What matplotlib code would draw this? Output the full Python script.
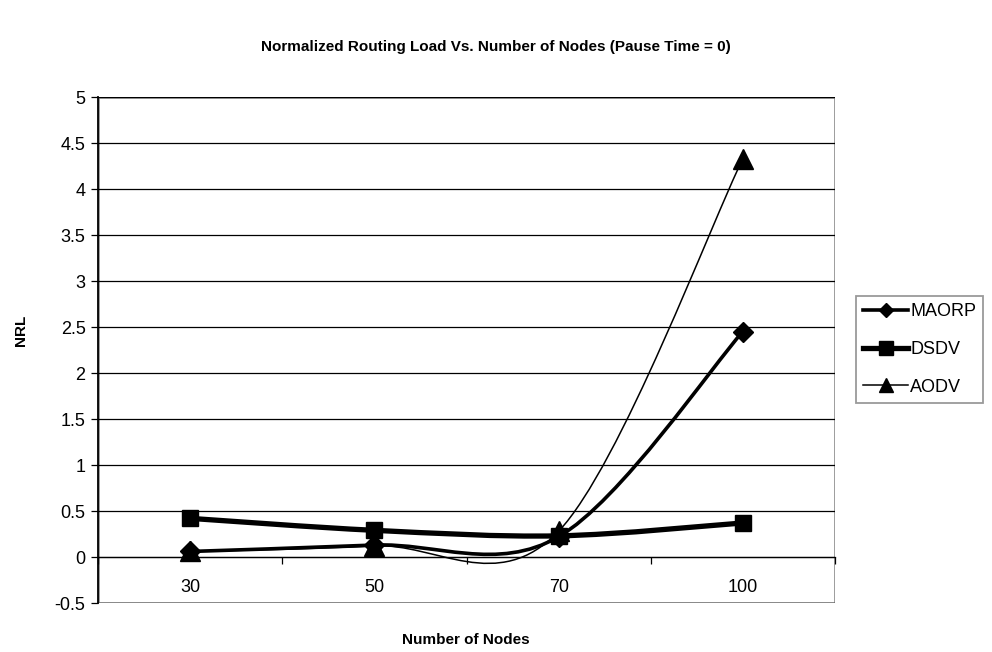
import matplotlib
matplotlib.use("Agg")
import matplotlib.pyplot as plt
from matplotlib.path import Path
from matplotlib.patches import PathPatch, Rectangle
from matplotlib.lines import Line2D
import numpy as np

plt.rcParams['font.family'] = ['Liberation Sans', 'DejaVu Sans']

categories = ["30", "50", "70", "100"]
maorp = [0.06, 0.13, 0.22, 2.45]
dsdv = [0.42, 0.29, 0.23, 0.37]
aodv = [0.06, 0.12, 0.28, 4.33]
yticks = [-0.5, 0, 0.5, 1, 1.5, 2, 2.5, 3, 3.5, 4, 4.5, 5]
ytick_labels = ["-0.5", "0", "0.5", "1", "1.5", "2", "2.5", "3", "3.5", "4", "4.5", "5"]

W, H = 992, 652
fig = plt.figure(figsize=(W / 100, H / 100), dpi=100)
L, R, T, B = 98, 835, 97, 603
ax = fig.add_axes([L / W, 1 - B / H, (R - L) / W, (B - T) / H])

x = np.arange(len(categories))


def smooth_path(xs, ys):
    pts = np.column_stack([xs, ys]).astype(float)
    n = len(pts)
    verts = [pts[0]]
    codes = [Path.MOVETO]
    for i in range(n - 1):
        p0 = pts[i - 1] if i > 0 else pts[i]
        p1 = pts[i]
        p2 = pts[i + 1]
        p3 = pts[i + 2] if i + 2 < n else pts[i + 1]
        c1 = p1 + (p2 - p0) / 6.0
        c2 = p2 - (p3 - p1) / 6.0
        verts += [c1, c2, p2]
        codes += [Path.CURVE4] * 3
    return Path(verts, codes)


styles = [
    ("MAORP", maorp, 2.6, 'D', 10, 7.5),
    ("DSDV", dsdv, 3.8, 's', 11.5, 10.5),
    ("AODV", aodv, 1.1, '^', 14, 10.5),
]
handles = []
for k, (name, ys, lw, mk, ms, lms) in enumerate(styles):
    patch = PathPatch(smooth_path(x, ys), facecolor='none', edgecolor='black',
                      linewidth=lw, zorder=3 + k, capstyle='round', joinstyle='round')
    ax.add_patch(patch)
    ax.plot(x, ys, linestyle='none', marker=mk, markersize=ms, color='black',
            zorder=3.5 + k)
    handles.append(Line2D([], [], color='black', linewidth=lw, marker=mk,
                          markersize=lms, label=name))

ax.set_xlim(-0.5, 3.5)
ax.set_ylim(-0.5, 5)

ax.set_yticks(yticks)
ax.set_yticklabels(ytick_labels, fontsize=13)
ax.yaxis.grid(True, color='black', linewidth=0.9)
ax.set_axisbelow(True)

ax.spines['top'].set_visible(False)
ax.spines['right'].set_visible(False)
ax.spines['bottom'].set_position(('data', 0))
ax.spines['bottom'].set_linewidth(0.9)
ax.spines['left'].set_linewidth(1.3)
ax.add_patch(Rectangle((0, 0), 1, 1, transform=ax.transAxes, fill=False,
                       edgecolor='#808080', linewidth=1.8, zorder=0.5))

ax.set_xticks(x)
ax.set_xticklabels(categories, fontsize=13)
ax.set_xticks(np.arange(-0.5, 3.6, 1.0), minor=True)
ax.tick_params(axis='x', which='major', length=0, pad=16)
ax.tick_params(axis='x', which='minor', length=5, width=0.9, direction='out')
ax.tick_params(axis='y', length=5, width=0.9, direction='out', pad=4)

fig.text(496 / W, 1 - 47 / H, "Normalized Routing Load Vs. Number of Nodes (Pause Time = 0)",
         ha='center', va='center', fontsize=11, fontweight='bold')
fig.text(466 / W, 1 - 640 / H, "Number of Nodes", ha='center', va='center',
         fontsize=11, fontweight='bold')
fig.text(21 / W, 1 - 330 / H, "NRL", ha='center', va='center', rotation=90,
         fontsize=11, fontweight='bold')

leg = fig.legend(handles=handles, loc='upper left',
                 bbox_to_anchor=(856 / W, 1 - 296 / H), fontsize=13,
                 frameon=True, fancybox=False, handlelength=2.5,
                 handletextpad=0.1, borderpad=0.4, labelspacing=1.15,
                 borderaxespad=0)
leg.get_frame().set_edgecolor('#808080')
leg.get_frame().set_linewidth(1.3)

fig.savefig("out.png", dpi=100)
